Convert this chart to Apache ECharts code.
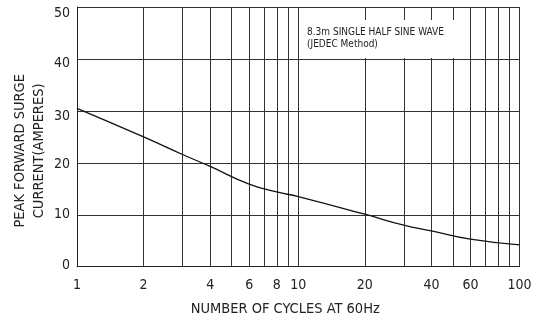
<!DOCTYPE html>
<html>
<head>
<meta charset="utf-8">
<script src="https://cdn.jsdelivr.net/npm/echarts@6/dist/echarts.min.js"></script>
<style>html,body{margin:0;padding:0;background:#fff}#c{width:545px;height:323px}</style>
</head>
<body>
<div id="c"></div>
<script>
var cycles = [1, 2, 3, 4, 6, 8, 10, 20, 30, 40, 60, 100];
var current = [30.5, 25.0, 21.6, 19.3, 15.9, 14.4, 13.5, 10.1, 8.0, 6.9, 5.3, 4.2];
var xGridValues = [1, 2, 3, 4, 5, 6, 7, 8, 9, 10, 20, 30, 40, 50, 60, 70, 80, 90, 100];
var xLabelValues = [1, 2, 4, 6, 8, 10, 20, 40, 60, 100];
var yTicks = [0, 10, 20, 30, 40, 50];
var noteLines = ['8.3m SINGLE HALF SINE WAVE', '(JEDEC Method)'];
var FONT = 'DejaVu Sans Condensed';

// small per-label vertical nudges seen in the reference's y tick labels
var yLabelNudge = {0: -1.5, 10: 0, 20: 2, 30: 5, 40: 4, 50: 6};
var yRich = {};
yTicks.forEach(function (v) {
  var d = yLabelNudge[v] || 0;
  yRich['v' + v] = {
    fontFamily: FONT, fontSize: 14, color: '#222',
    padding: d >= 0 ? [2 * d, 0, 0, 0] : [0, 0, -2 * d, 0]
  };
});

var chart = echarts.init(document.getElementById('c'), null, {renderer: 'canvas'});
chart.setOption({
  animation: false,
  grid: {left: 77, right: 25.5, top: 7, bottom: 56.3, containLabel: false, outerBoundsMode: 'none'},
  xAxis: {
    type: 'log', logBase: 10, min: 1, max: 100,
    name: 'NUMBER OF CYCLES AT 60Hz', nameLocation: 'middle', nameGap: 35, nameMoveOverlap: false,
    nameTextStyle: {fontFamily: FONT, fontSize: 14.5, color: '#222', padding: [0, 26, 0, 0]},
    axisLine: {show: true, lineStyle: {color: '#222', width: 1}},
    axisTick: {show: false, customValues: xGridValues},
    axisLabel: {customValues: xLabelValues, fontFamily: FONT, fontSize: 14, color: '#222', margin: 12},
    splitLine: {show: true, lineStyle: {color: '#333', width: 1}},
    minorSplitLine: {show: false}
  },
  yAxis: {
    type: 'value', min: yTicks[0], max: yTicks[yTicks.length - 1], interval: 10,
    name: 'PEAK FORWARD SURGE\nCURRENT(AMPERES)', nameLocation: 'middle', nameGap: 29, nameMoveOverlap: false,
    nameTextStyle: {fontFamily: FONT, fontSize: 14.5, color: '#222', lineHeight: 18.5, padding: [0, 28, 0, 0]},
    axisLine: {show: true, lineStyle: {color: '#222', width: 1}},
    axisTick: {show: false},
    axisLabel: {
      fontFamily: FONT, fontSize: 14, color: '#222', margin: 7,
      formatter: function (v) { return '{v' + v + '|' + v + '}'; },
      rich: yRich
    },
    splitLine: {show: true, lineStyle: {color: '#333', width: 1}}
  },
  graphic: [
    {type: 'rect', left: 300, top: 20, shape: {width: 168, height: 38}, style: {fill: '#fff'}, z: 10},
    {type: 'text', left: 307, top: 26.5, z: 11,
      style: {text: noteLines.join('\n'), fontFamily: FONT, fontSize: 10, lineHeight: 12, fill: '#222'}}
  ],
  series: [{
    type: 'line',
    data: cycles.map(function (c, i) { return [c, current[i]]; }),
    smooth: true, showSymbol: false,
    lineStyle: {color: '#111', width: 1.3},
    z: 5
  }]
});
</script>
</body>
</html>
